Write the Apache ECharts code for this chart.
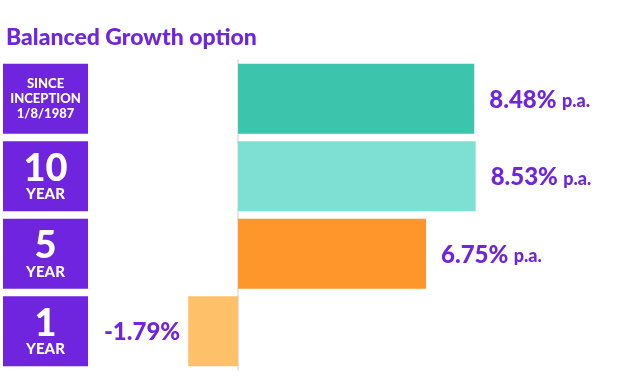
<!DOCTYPE html>
<html><head><meta charset="utf-8">
<script src="https://cdn.jsdelivr.net/npm/echarts@6/dist/echarts.min.js"></script>
<style>html,body{margin:0;padding:0;background:#fff}#c{width:619px;height:388px}</style>
</head><body><div id="c"></div>
<script>
const titleText = 'Balanced Growth option';
const periodBig = ['', '10', '5', '1'];
const periodSmall = ['SINCE\nINCEPTION\n1/8/1987', 'YEAR', 'YEAR', 'YEAR'];
const categories = ['Since inception', '10 year', '5 year', '1 year'];
const returns = [8.48, 8.53, 6.75, -1.79];
const barColors = ['#3CC4AC', '#7DE0D2', '#FF962C', '#FFC06A'];
const purple = '#6F24DD';
const font = 'Lato';

const chart = echarts.init(document.getElementById('c'));
chart.setOption({
  animation: false,
  title: {text: titleText, left: 1, top: 21, textStyle: {fontFamily: font, fontWeight: 900, fontSize: 23, color: purple}},
  grid: [
    {left: 126.6, width: 390, top: 60, bottom: 18},
    {left: 3, width: 85, top: 60, bottom: 18}
  ],
  xAxis: [
    {gridIndex: 0, type: 'value', min: -4, max: 10, show: false},
    {gridIndex: 1, type: 'value', min: 0, max: 1, show: false}
  ],
  yAxis: [
    {gridIndex: 0, type: 'category', inverse: true, data: categories,
     axisLine: {show: true, onZero: true, lineStyle: {color: '#E6E6E6', width: 2}},
     axisTick: {show: false}, axisLabel: {show: false}},
    {gridIndex: 1, type: 'category', inverse: true, data: categories, show: false}
  ],
  series: [
    {type: 'bar', xAxisIndex: 0, yAxisIndex: 0, barWidth: 70,
     data: returns.map((v, i) => ({
       value: v, itemStyle: {color: barColors[i]},
       label: {show: true, position: v < 0 ? 'left' : 'right', distance: v < 0 ? 8 : 15,
         formatter: v < 0 ? '{a|' + v.toFixed(2) + '%}' : '{a|' + v.toFixed(2) + '%} {b|p.a.}',
         rich: {a: {fontFamily: font, fontWeight: 900, fontSize: 24, color: purple, padding: [3, 0, 0, 0]},
                b: {fontFamily: font, fontWeight: 900, fontSize: 18, color: purple, padding: [5, 0, 0, 2]}}}
     }))},
    {type: 'bar', xAxisIndex: 1, yAxisIndex: 1, barWidth: 70,
     itemStyle: {color: purple},
     data: categories.map((c, i) => ({
       value: 1,
       label: {show: true, position: 'inside',
         formatter: periodBig[i] ? '{big|' + periodBig[i] + '}\n{small|' + periodSmall[i] + '}' : '{tiny|' + periodSmall[i].split('\n').join('}\n{tiny|') + '}',
         rich: {big: {fontFamily: font, fontWeight: 900, fontSize: 38, lineHeight: 36, color: '#fff'},
                small: {fontFamily: font, fontWeight: 900, fontSize: 15, lineHeight: 16, color: '#fff'},
                tiny: {fontFamily: font, fontWeight: 900, fontSize: 13, lineHeight: 15, color: '#fff'}}}
     }))}
  ]
});
</script></body></html>
